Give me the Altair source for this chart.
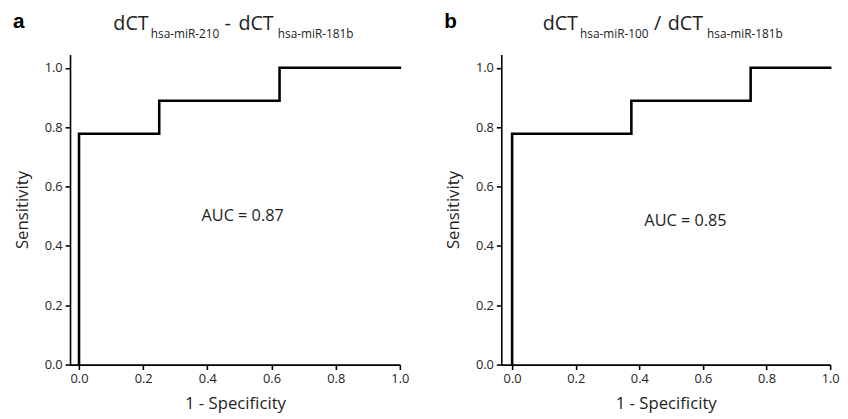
import altair as alt
import pandas as pd

# ROC curve points
fpr_a = [0.0, 0.0, 0.25, 0.25, 0.625, 0.625, 1.0]
tpr_a = [0.0, 0.778, 0.778, 0.889, 0.889, 1.0, 1.0]
fpr_b = [0.0, 0.0, 0.375, 0.375, 0.75, 0.75, 1.0]
tpr_b = [0.0, 0.778, 0.778, 0.889, 0.889, 1.0, 1.0]

auc_a = "AUC = 0.87"
auc_b = "AUC = 0.85"
ticks = [0.0, 0.2, 0.4, 0.6, 0.8, 1.0]

FONT = "Open Sans"
TXT = "#222222"


def panel(fpr, tpr, auc_text, auc_pos, xmin, width, letter, pieces):
    df = pd.DataFrame({"fpr": fpr, "tpr": tpr, "i": range(len(fpr))})
    xs = alt.Scale(domain=[xmin, 1.0], nice=False, zero=False)
    ys = alt.Scale(domain=[0, 1.045], nice=False, zero=False)
    line = alt.Chart(df).mark_line(color="black", strokeWidth=2.6, strokeCap="square").encode(
        x=alt.X("fpr:Q", scale=xs, title="1 - Specificity",
                axis=alt.Axis(values=ticks, format=".1f", titlePadding=11)),
        y=alt.Y("tpr:Q", scale=ys, title="Sensitivity",
                axis=alt.Axis(values=ticks, format=".1f", titlePadding=13)),
        order="i:O",
    )
    adf = pd.DataFrame({"x": [auc_pos[0]], "y": [auc_pos[1]], "t": [auc_text]})
    auc = alt.Chart(adf).mark_text(font=FONT, fontSize=16.5, color=TXT).encode(
        x=alt.X("x:Q", scale=xs), y=alt.Y("y:Q", scale=ys), text="t:N")
    layers = [line, auc]
    lab = alt.Chart(pd.DataFrame({"t": [letter]})).mark_text(
        font="Liberation Sans", fontSize=21, fontWeight="bold", align="left",
        baseline="alphabetic", color="black").encode(
        x=alt.value(-58), y=alt.value(-27), text="t:N")
    layers.append(lab)
    for txt, px, sub in pieces:
        layers.append(alt.Chart(pd.DataFrame({"t": [txt]})).mark_text(
            font=FONT, fontSize=12 if sub else 20, align="left",
            baseline="alphabetic", color=TXT).encode(
            x=alt.value(px), y=alt.value(-17 if sub else -25), text="t:N"))
    return alt.layer(*layers).properties(width=width, height=315)


pa = panel(fpr_a, tpr_a, auc_a, (0.51, 0.5), -0.028, 335, "a",
           [("dCT", 44, False), ("hsa-miR-210", 82, True), ("-", 157, False),
            ("dCT", 171, False), ("hsa-miR-181b", 211, True)])
pb = panel(fpr_b, tpr_b, auc_b, (0.545, 0.485), -0.034, 334, "b",
           [("dCT", 42, False), ("hsa-miR-100", 80, True), ("/", 155, False),
            ("dCT", 169, False), ("hsa-miR-181b", 209, True)])

chart = alt.hconcat(pa, pb, spacing=35).properties(
    padding={"left": 5, "top": 0, "right": 0, "bottom": 0}
).configure_view(stroke=None).configure_axis(
    grid=False, domainColor="black", domainWidth=1.6, tickColor="black",
    tickWidth=1.6, tickSize=5, labelFont=FONT, labelFontSize=13, labelColor=TXT,
    labelPadding=3, titleFont=FONT, titleFontSize=17, titleFontWeight="normal",
    titleColor=TXT, labelFlush=False,
)

chart.save("out.html", embed_options={"renderer": "svg", "actions": False})
